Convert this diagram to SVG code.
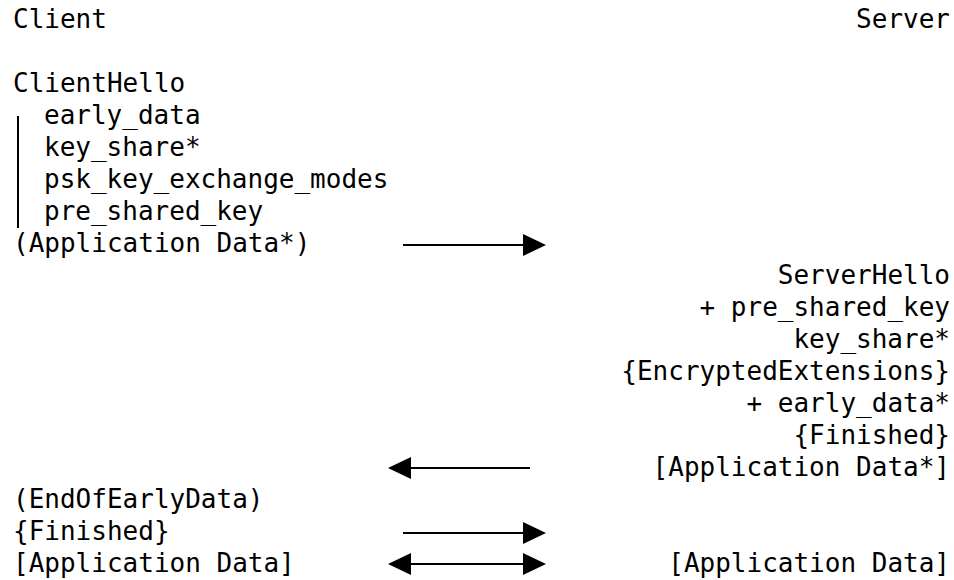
<svg xmlns="http://www.w3.org/2000/svg" width="954" height="580" viewBox="0 0 954 580">
<defs>
<style>
text{font-family:"DejaVu Sans Mono","Liberation Mono",monospace;font-size:26px;fill:#000;white-space:pre}
.r{text-anchor:end}
.c{stroke:#000;stroke-width:2;fill:none}
.h{fill:#000;stroke:none}
</style>
</defs>
<rect width="954" height="580" fill="#fff"/>
<g id="client">
<text x="13" y="28">Client</text>
<text x="13" y="92">ClientHello</text>
<text x="44" y="124">early_data</text>
<text x="44" y="156">key_share*</text>
<text x="44" y="188">psk_key_exchange_modes</text>
<text x="44" y="220">pre_shared_key</text>
<text x="13" y="252">(Application Data*)</text>
<text x="13" y="508">(EndOfEarlyData)</text>
<text x="13" y="540">{Finished}</text>
<text x="13" y="572">[Application Data]</text>
<line class="c" x1="18" y1="116" x2="18" y2="228"/>
</g>
<g id="server">
<text class="r" x="950" y="28">Server</text>
<text class="r" x="950" y="284">ServerHello</text>
<text class="r" x="950" y="316">+ pre_shared_key</text>
<text class="r" x="950" y="348">key_share*</text>
<text class="r" x="950" y="380">{EncryptedExtensions}</text>
<text class="r" x="950" y="412">+ early_data*</text>
<text class="r" x="950" y="444">{Finished}</text>
<text class="r" x="950" y="476">[Application Data*]</text>
<text class="r" x="950" y="572">[Application Data]</text>
</g>
<g id="connectors">
<line class="c" x1="403" y1="245" x2="524" y2="245"/>
<polygon class="h" points="523,234 546,245 523,256"/>
<line class="c" x1="409" y1="468" x2="530" y2="468"/>
<polygon class="h" points="411,457 388,468 411,479"/>
<line class="c" x1="403" y1="533" x2="524" y2="533"/>
<polygon class="h" points="523,522 546,533 523,544"/>
<line class="c" x1="409" y1="564" x2="524" y2="564"/>
<polygon class="h" points="411,553 388,564 411,575"/>
<polygon class="h" points="523,553 546,564 523,575"/>
</g>
</svg>
